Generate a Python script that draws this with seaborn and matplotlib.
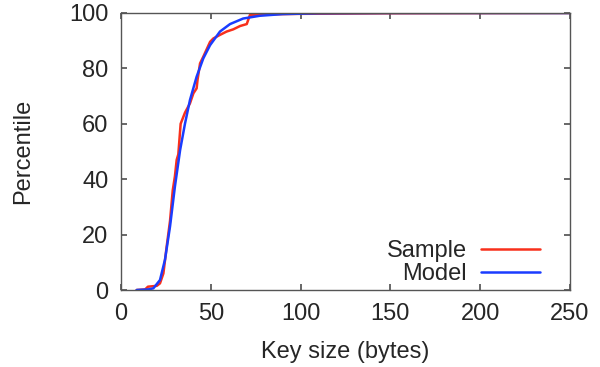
import numpy as np
import pandas as pd
import matplotlib
matplotlib.use("Agg")
import matplotlib.pyplot as plt
import seaborn as sns

# CDF of key sizes: measured sample vs. fitted model
sample_x = [8.7, 13.4, 15, 19.9, 21.7, 23.6, 25.4, 27.3, 28.8, 30, 31, 31.9, 33.2,
            35.6, 38.4, 40.3, 42.1, 42.6, 44, 45.8, 49.6, 51.4, 55.1, 58.8, 62.5,
            66.3, 70, 71.8, 80, 100, 150, 250]
sample_y = [0, 0.2, 1.2, 1.5, 2.4, 6, 15.6, 25, 36, 41, 47, 49, 60,
            64, 67.4, 71, 72.8, 75.8, 81.8, 84.2, 89.6, 90.8, 92.1, 93.3, 94.1,
            95.3, 96, 99.3, 99.5, 99.7, 99.9, 100]

model_x = [8.7, 15, 18, 21.7, 24.5, 27.3, 30, 32.9, 35.6, 38.4, 42.1, 45.8,
           49.6, 55.1, 60.7, 68, 77.3, 90, 110, 150, 250]
model_y = [0, 0.2, 0.6, 3.6, 11, 23, 37.3, 50.5, 60, 68.6, 77, 83.6,
           88.4, 93.3, 96, 98, 99, 99.6, 99.9, 100, 100]

df = pd.concat([
    pd.DataFrame({"x": sample_x, "y": sample_y, "series": "Sample"}),
    pd.DataFrame({"x": model_x, "y": model_y, "series": "Model"}),
])

sns.set_theme(style="ticks")
plt.rcParams['font.family'] = ['Liberation Sans', 'DejaVu Sans']

fig = plt.figure(figsize=(6, 3.67), dpi=100)
ax = fig.add_axes([0.2017, 0.2098, 0.7483, 0.7548])

sns.lineplot(data=df, x="x", y="y", hue="series", sort=False, estimator=None,
             palette={"Sample": "#f8301c", "Model": "#1a3cff"}, linewidth=1.8, ax=ax)

ax.set_xlim(0, 250)
ax.set_ylim(0, 100)
ax.set_xticks([0, 50, 100, 150, 200, 250])
ax.set_yticks([0, 20, 40, 60, 80, 100])
ax.tick_params(direction="in", top=True, right=True, labelsize=17, length=4,
               color="#555555", pad=9)
for s in ax.spines.values():
    s.set_color("#555555")
    s.set_linewidth(1.0)

ax.set_xlabel("Key size (bytes)", fontsize=17, labelpad=12)
ax.set_ylabel("Percentile", fontsize=17, labelpad=25)

leg = ax.legend(loc="lower right", bbox_to_anchor=(0.944, 0.0), frameon=False,
                markerfirst=False, fontsize=17, handlelength=2.5, handletextpad=0.6,
                labelspacing=0.05, borderaxespad=0, borderpad=0.2, title=None)

fig.savefig("out.png", dpi=100)
